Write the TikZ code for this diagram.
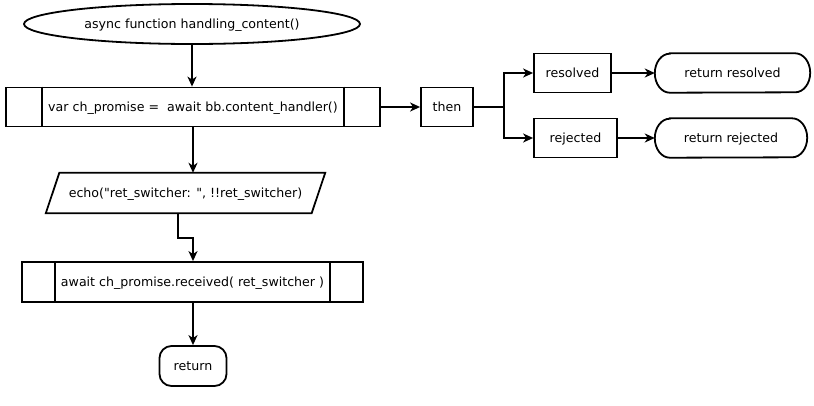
\documentclass[tikz,border=0pt]{standalone}
\usepackage{fontspec}
\setmainfont{DejaVu Sans}[Ligatures=TeXOff]
\usetikzlibrary{arrows.meta,shapes.geometric,calc}
\begin{document}
\begin{tikzpicture}[x=1pt,y=-1pt,
  every node/.style={font=\fontsize{12.6}{14}\selectfont, inner sep=0pt, text height=9pt, text depth=1pt},
  box/.style={draw, line width=1.8pt, rectangle, minimum height=39pt},
  ghost/.style={rectangle, minimum height=39pt},
  arr/.style={line width=1.8pt, -{Stealth[length=10pt,width=9pt,inset=3pt]}},
  edge/.style={line width=1.8pt}]
\useasboundingbox (0,0) rectangle (814,405);
% start
\node[draw, ellipse, line width=1.8pt, minimum width=336pt, minimum height=40pt] (start) at (192,24) {async function handling\_content()};
% box1
\node[box, minimum width=374pt] (box1) at (193,107) {var ch\_promise =\ \ await bb.content\_handler()};
\draw[edge] ([xshift=37]box1.north west) -- ([xshift=37]box1.south west);
\draw[edge] ([xshift=-37]box1.north east) -- ([xshift=-37]box1.south east);
% then
\node[box, minimum width=52pt] (then) at (447,107) {then};
\node[box, minimum width=77pt] (res) at (572.5,73) {resolved};
\node[box, minimum width=83pt] (rej) at (575.5,138) {rejected};
% terminators
\node[ghost, minimum width=155pt] (retres) at (732.5,73) {return resolved};
\node[ghost, minimum width=152pt] (retrej) at (731,138) {return rejected};
\foreach \n in {retres,retrej}{
  \draw[edge] ([xshift=15]\n.north west) -- ([xshift=-15]\n.north east)
    arc[start angle=90,end angle=-90,x radius=15,y radius=-19.5]
    -- ([xshift=15]\n.south west)
    arc[start angle=270,end angle=90,x radius=15,y radius=-19.5] -- cycle;
}
% parallelogram
\node[rectangle, minimum width=279pt, minimum height=40pt] (para) at (185.5,193) {echo("ret\_switcher: ", !!ret\_switcher)};
\draw[edge, line join=miter] ([xshift=13.5]para.north west) -- (para.north east) -- ([xshift=-13.5]para.south east) -- (para.south west) -- cycle;
% box2
\node[box, minimum width=341pt, minimum height=40pt] (box2) at (192.5,282) {await ch\_promise.received( ret\_switcher )};
\draw[edge] ([xshift=34]box2.north west) -- ([xshift=34]box2.south west);
\draw[edge] ([xshift=-34]box2.north east) -- ([xshift=-34]box2.south east);
% return
\node[draw, line width=1.8pt, rectangle, rounded corners=12pt, minimum width=67pt, minimum height=40pt] (ret) at (193,366) {return};
% connectors
\draw[arr] (start.south) -- (start.south |- box1.north);
\draw[arr] (box1.east) -- (then.west);
\coordinate (split) at ($(then.east)+(30,0)$);
\draw[edge] (then.east) -- (split);
\draw[arr] (split) |- (res.west);
\draw[arr] (split) |- (rej.west);
\draw[arr] (res.east) -- (retres.west);
\draw[arr] (rej.east) -- (retrej.west);
\draw[arr] (box1.south) -- (box1.south |- para.north);
\draw[arr] ([xshift=-7.5]para.south) -- ++(0,25) -| (ret.north |- box2.north);
\draw[arr] (ret.north |- box2.south) -- (ret.north);
\end{tikzpicture}
\end{document}
